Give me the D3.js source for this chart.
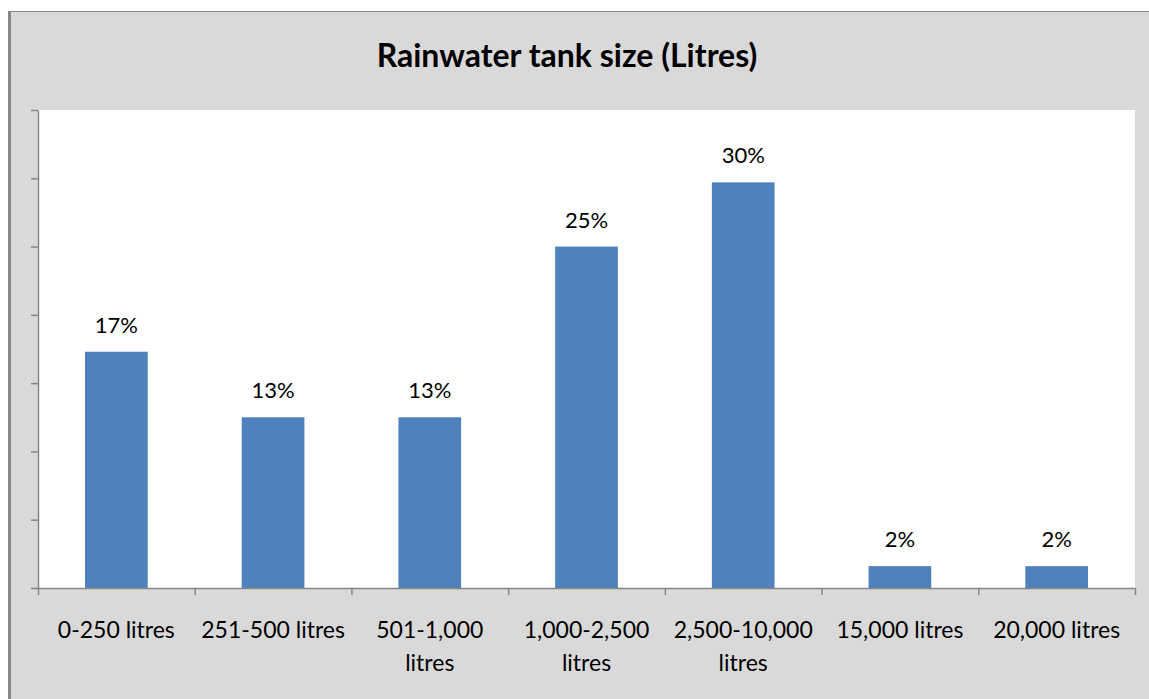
<!DOCTYPE html>
<html>
<head>
<meta charset="utf-8">
<script src="https://cdn.jsdelivr.net/npm/d3@7"></script>
<style>
  body { margin: 0; background: #ffffff; }
  svg { display: block; font-family: Lato, "Open Sans", sans-serif; }
</style>
</head>
<body>
<svg width="1149" height="699"></svg>
<script>
// data (percent of households)
var categories = ["0-250 litres", "251-500 litres", "501-1,000 litres", "1,000-2,500 litres",
                  "2,500-10,000 litres", "15,000 litres", "20,000 litres"]
var shares = [17.3, 12.5, 12.5, 25.0, 29.7, 1.6, 1.6]
var yTicks = [0, 5, 10, 15, 20, 25, 30, 35]
var title = "Rainwater tank size (Litres)"

var svg = d3.select("svg"),
	width = +svg.attr("width"),
	height = +svg.attr("height")

var plot = {left: 38, right: 1135, top: 110, bottom: 588}

// chart frame (cropped on right/bottom like the source)
svg.append("rect")
	.attr("x", 8.5).attr("y", 11.5)
	.attr("width", width + 10).attr("height", height + 10)
	.style("fill", "#d9d9d9")
	.style("stroke", "#868686")
svg.append("line")
	.attr("x1", 9.5).attr("x2", 9.5).attr("y1", 11).attr("y2", height)
	.style("stroke", "#868686").style("stroke-width", 3)

// plot area
svg.append("rect")
	.attr("x", plot.left).attr("y", plot.top)
	.attr("width", plot.right - plot.left).attr("height", plot.bottom - plot.top)
	.style("fill", "#ffffff")

var x = d3.scaleBand()
	.domain(categories)
	.range([plot.left, plot.right])
	.paddingInner(0.6)
	.paddingOuter(0.3)

var y = d3.scaleLinear()
	.domain([0, 35])
	.range([plot.bottom, plot.top])

// bars
svg.selectAll("rect.bar")
	.data(shares)
	.enter().append("rect")
	.attr("class", "bar")
	.attr("x", (d, i) => x(categories[i]))
	.attr("y", d => y(d))
	.attr("width", x.bandwidth())
	.attr("height", d => y(0) - y(d))
	.style("fill", "#4f81bd")

// value labels
svg.selectAll("text.val")
	.data(shares)
	.enter().append("text")
	.attr("class", "val")
	.attr("x", (d, i) => x(categories[i]) + x.bandwidth() / 2)
	.attr("y", d => y(d) - 19)
	.attr("text-anchor", "middle")
	.style("font-size", "22px")
	.style("fill", "#000")
	.text(d => Math.round(d) + "%")

// y axis: ticks only
var yAxis = svg.append("g")
	.attr("transform", "translate(" + plot.left + ",0)")
	.call(d3.axisLeft(y).tickValues(yTicks).tickFormat("").tickSizeInner(7).tickSizeOuter(0))
yAxis.selectAll("path, line").style("stroke", "#868686").style("stroke-width", 1.5)

// x axis: ticks at band boundaries
var edge = d3.scaleLinear().domain([0, categories.length]).range([plot.left, plot.right])
var xAxis = svg.append("g")
	.attr("transform", "translate(0," + plot.bottom + ")")
	.call(d3.axisBottom(edge).tickValues(d3.range(categories.length + 1)).tickFormat("").tickSizeInner(7).tickSizeOuter(0))
xAxis.selectAll("path, line").style("stroke", "#868686").style("stroke-width", 1.5)

// category labels, wrapped before "litres" when long
var cats = svg.selectAll("text.cat")
	.data(categories)
	.enter().append("text")
	.attr("class", "cat")
	.attr("x", d => x(d) + x.bandwidth() / 2)
	.attr("y", 638)
	.attr("text-anchor", "middle")
	.style("font-size", "23px")
	.style("fill", "#000")

cats.each(function(d) {
	var lines = d.length > 14 ? [d.slice(0, d.lastIndexOf(" ")), d.slice(d.lastIndexOf(" ") + 1)] : [d]
	var t = d3.select(this)
	lines.forEach(function(l, i) {
		t.append("tspan")
			.attr("x", t.attr("x"))
			.attr("dy", i ? 33 : 0)
			.text(l)
	})
})

// title
svg.append("text")
	.attr("x", 567)
	.attr("y", 67)
	.attr("text-anchor", "middle")
	.style("font-size", "32px")
	.style("font-weight", "bold")
	.style("fill", "#000")
	.text(title)
</script>
</body>
</html>
